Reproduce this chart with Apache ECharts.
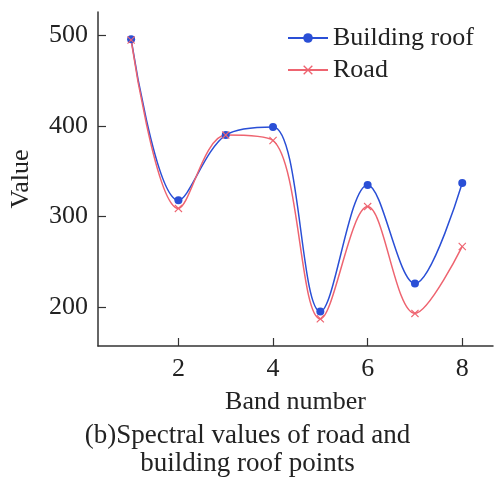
<!DOCTYPE html>
<html><head><meta charset="utf-8">
<script src="https://cdn.jsdelivr.net/npm/echarts@6/dist/echarts.min.js"></script>
<style>html,body{margin:0;padding:0;background:#fff}#c{width:495px;height:477px}</style>
</head><body><div id="c"></div>
<script>
const bands = [1,2,3,4,5,6,7,8];
const buildingRoof = [496,318,390,399,195,335,226,337];
const road = [495,309,390,384,187,311,193,267];
const xTicks = [2,4,6,8];
const yTicks = [200,300,400,500];
const captionLines = ['(b)Spectral values of road and','building roof points'];

const font = 'Liberation Serif, Times New Roman, serif';
const blue = '#2a4fd6';
const red = '#ee6470';
const crossPath = 'path://M0,1L1,0L5,4L9,0L10,1L6,5L10,9L9,10L5,6L1,10L0,9L4,5Z';

const chart = echarts.init(document.getElementById('c'));
chart.setOption({
  animation:false,
  backgroundColor:'#fff',
  grid:{left:98,top:12,right:2,bottom:131,containLabel:false},
  legend:{
    orient:'vertical', left:282, top:20, itemWidth:40, itemHeight:12, itemGap:6,
    textStyle:{fontFamily:font,fontSize:26,color:'#222'},
    data:['Building roof','Road']
  },
  xAxis:{
    type:'value', min:0.3, max:8.65,
    name:'Band number', nameLocation:'middle', nameGap:43,
    nameTextStyle:{fontFamily:font,fontSize:26,color:'#222'},
    axisLine:{lineStyle:{color:'#333',width:1.5}},
    axisTick:{inside:true,length:8,customValues:xTicks,lineStyle:{color:'#333',width:1.2}},
    axisLabel:{customValues:xTicks,fontFamily:font,fontSize:26,color:'#222',margin:10},
    splitLine:{show:false}
  },
  yAxis:{
    type:'value', min:157, max:526,
    name:'Value', nameLocation:'middle', nameGap:64, nameRotate:90,
    nameTextStyle:{fontFamily:font,fontSize:26,color:'#222'},
    axisLine:{show:true,lineStyle:{color:'#333',width:1.5}},
    axisTick:{show:true,inside:true,length:8,customValues:yTicks,lineStyle:{color:'#333',width:1.2}},
    axisLabel:{customValues:yTicks,fontFamily:font,fontSize:26,color:'#222',margin:10},
    splitLine:{show:false}
  },
  graphic:[
    {type:'text',left:'center',top:422,style:{text:captionLines[0],font:'27px '+font,fill:'#222',textAlign:'center'}},
    {type:'text',left:'center',top:450,style:{text:captionLines[1],font:'27px '+font,fill:'#222',textAlign:'center'}}
  ],
  series:[
    {name:'Building roof',type:'line',smooth:0.35,data:bands.map((b,i)=>[b,buildingRoof[i]]),
     symbol:'circle',symbolSize:8,showSymbol:true,
     lineStyle:{color:blue,width:1.5},itemStyle:{color:blue}},
    {name:'Road',type:'line',smooth:0.35,data:bands.map((b,i)=>[b,road[i]]),
     symbol:crossPath,symbolSize:8,showSymbol:true,
     lineStyle:{color:red,width:1.5},itemStyle:{color:red}}
  ]
});
</script></body></html>
